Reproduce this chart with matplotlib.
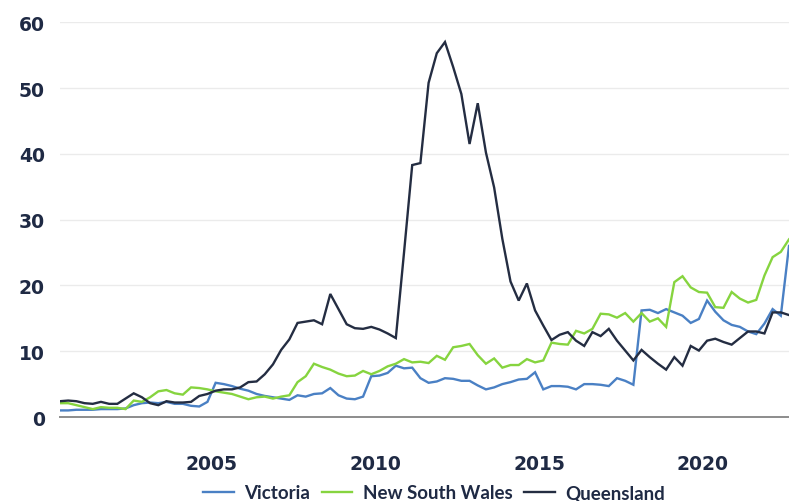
import matplotlib
matplotlib.use("Agg")
import matplotlib.pyplot as plt
import numpy as np

# Quarterly series, Q2 2000 .. Q3 2022 (plotted at mid-quarter)
start_year = 2000.375
victoria = [1.0, 1.0, 1.1, 1.1, 1.1, 1.2, 1.2, 1.2, 1.3, 1.8,
            2.1, 2.2, 2.1, 2.3, 2.0, 2.0, 1.7, 1.6, 2.3, 5.2,
            5.0, 4.7, 4.3, 4.0, 3.5, 3.2, 3.0, 2.8, 2.6, 3.3,
            3.1, 3.5, 3.6, 4.4, 3.3, 2.8, 2.7, 3.1, 6.2, 6.3,
            6.7, 7.8, 7.4, 7.5, 5.9, 5.2, 5.4, 5.9, 5.8, 5.5,
            5.5, 4.8, 4.2, 4.5, 5.0, 5.3, 5.7, 5.8, 6.8, 4.2,
            4.7, 4.7, 4.6, 4.2, 5.0, 5.0, 4.9, 4.7, 5.9, 5.5,
            4.9, 16.2, 16.3, 15.8, 16.4, 15.9, 15.4, 14.3, 14.9, 17.7,
            16.0, 14.7, 14.0, 13.7, 13.0, 12.6, 14.2, 16.4, 15.4, 26.0]
nsw = [2.1, 2.1, 1.8, 1.5, 1.2, 1.5, 1.4, 1.4, 1.2, 2.5,
       2.3, 3.0, 3.9, 4.1, 3.6, 3.4, 4.5, 4.4, 4.2, 3.9,
       3.7, 3.5, 3.1, 2.7, 3.0, 3.1, 2.8, 3.1, 3.3, 5.3,
       6.2, 8.1, 7.6, 7.2, 6.6, 6.2, 6.3, 7.0, 6.5, 7.0,
       7.7, 8.1, 8.8, 8.3, 8.4, 8.2, 9.3, 8.7, 10.6, 10.8,
       11.1, 9.4, 8.1, 8.9, 7.5, 7.9, 7.9, 8.8, 8.3, 8.6,
       11.3, 11.1, 11.0, 13.1, 12.7, 13.4, 15.7, 15.6, 15.1, 15.8,
       14.5, 15.8, 14.5, 15.0, 13.7, 20.5, 21.4, 19.7, 19.0, 18.9,
       16.7, 16.6, 19.0, 18.0, 17.4, 17.8, 21.5, 24.3, 25.1, 27.0]
queensland = [2.4, 2.5, 2.4, 2.1, 2.0, 2.3, 2.0, 2.0, 2.8, 3.6,
              3.0, 2.1, 1.8, 2.4, 2.2, 2.2, 2.3, 3.2, 3.5, 4.0,
              4.2, 4.2, 4.5, 5.3, 5.4, 6.5, 8.0, 10.2, 11.8, 14.3,
              14.5, 14.7, 14.1, 18.7, 16.4, 14.1, 13.5, 13.4, 13.7, 13.3,
              12.7, 12.0, 25.0, 38.3, 38.6, 50.8, 55.3, 57.0, 53.2, 49.1,
              41.5, 47.7, 40.2, 34.9, 27.1, 20.6, 17.7, 20.3, 16.2, 13.9,
              11.7, 12.5, 12.9, 11.6, 10.8, 12.9, 12.3, 13.4, 11.6, 10.1,
              8.6, 10.2, 9.1, 8.1, 7.2, 9.1, 7.8, 10.8, 10.1, 11.6,
              11.9, 11.4, 11.0, 12.0, 13.0, 13.0, 12.7, 15.9, 15.9, 15.5]
series_names = ["Victoria", "New South Wales", "Queensland"]
x_ticks = [2005, 2010, 2015, 2020]
y_ticks = [0, 10, 20, 30, 40, 50, 60]

years = start_year + 0.25 * np.arange(len(victoria))

navy = "#1f2a44"
colors = ["#4a80c4", "#86d43f", "#242d42"]

plt.rcParams['font.family'] = ['Lato', 'DejaVu Sans']

fig = plt.figure(figsize=(7.89, 5.02), dpi=100)
ax = fig.add_axes([60/789, 1 - 418/502, 1 - 60/789, (418 - 23.3)/502])

for vals, name, c in zip([victoria, nsw, queensland], series_names, colors):
    ax.plot(years, vals, color=c, lw=1.7, label=name, solid_joinstyle='miter', zorder=3)

ax.set_xlim(years[0], years[-1])
ax.set_ylim(0, 60)
ax.set_xticks(x_ticks)
ax.set_xticklabels([str(t) for t in x_ticks])
ax.set_yticks(y_ticks)
ax.set_yticklabels([str(t) for t in y_ticks])

for s in ["top", "right", "left"]:
    ax.spines[s].set_visible(False)
ax.spines["bottom"].set_color("#8c8c8c")
ax.spines["bottom"].set_linewidth(1.4)
ax.spines["bottom"].set_zorder(4)

ax.yaxis.grid(True, color="#ebebeb", lw=1.0)
ax.set_axisbelow(True)
ax.tick_params(axis="both", length=0, labelsize=13.5, labelcolor=navy)
ax.tick_params(axis="x", pad=27)
ax.tick_params(axis="y", pad=11)
for lab in ax.get_xticklabels() + ax.get_yticklabels():
    lab.set_fontweight("bold")
    lab.set_family(["DejaVu Sans"])

leg = fig.legend(loc="center", bbox_to_anchor=(0.550, 0.016), ncol=3, frameon=False,
                 fontsize=13.5, handlelength=1.65, columnspacing=0.6, handletextpad=0.55)
for t in leg.get_texts():
    t.set_color(navy)
    t.set_fontweight("bold")

fig.savefig("out.png", dpi=100)
